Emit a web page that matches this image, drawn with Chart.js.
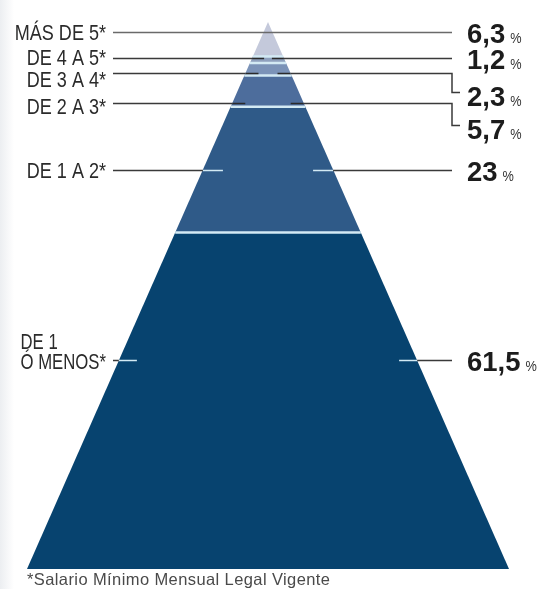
<!DOCTYPE html>
<html lang="es">
<head>
<meta charset="utf-8">
<script src="https://cdn.jsdelivr.net/npm/chart.js@4"></script>
<style>
    html, body { margin: 0; padding: 0; background: linear-gradient(to right, #eceef1 0px, #ffffff 14px); }
    #wrap { width: 542px; height: 589px; }
</style>
</head>
<body>
<div id="wrap"><canvas id="piramide" width="542" height="589"></canvas></div>
<script>
// Niveles de ingreso, de la base hacia la punta
const niveles = [['DE 1', 'Ó MENOS*'], ['DE 1 A 2*'], ['DE 2 A 3*'], ['DE 3 A 4*'], ['DE 4 A 5*'], ['MÁS DE 5*']];
const porcentajes = [61.5, 23, 5.7, 2.3, 1.2, 6.3];
const nota = '*Salario Mínimo Mensual Legal Vigente';

// Estilos
const colores = ['#07436f', '#2f5a88', '#4d6d9c', '#7b93b8', '#8fa1be', '#c4c9db'];
const posGuia = [0.62, 0.5, 0.12, 0.2, 0.75, 0.71];    // altura de la guía dentro de cada capa
const bajada = [0, 0, 22, 19, 0, 0];                   // codo de la guía derecha (px)
const desvTexto = [0, 0, 3, 6, -1, 0];                 // ajuste vertical del rótulo izquierdo (px)
const dentro = [18, 20, 13, 13, 12, null];             // cuánto entra la guía en la pirámide
const guiaClara = [true, true, false, false, false, false];

// Acumulados
const acum = [0];
porcentajes.forEach((v, i) => acum.push(acum[i] + v));
const total = acum[acum.length - 1];
const ancho = c => 1 - c / total;

// Capas (trapecios) y separadores
const capas = porcentajes.map((v, i) => ({
    data: [
        { x: -ancho(acum[i]), y: acum[i] },
        { x: ancho(acum[i]), y: acum[i] },
        { x: ancho(acum[i + 1]), y: acum[i + 1] },
        { x: -ancho(acum[i + 1]), y: acum[i + 1] }
    ],
    backgroundColor: colores[i],
    borderWidth: 0,
    pointRadius: 0,
    fill: 'shape'
}));

const separadores = acum.slice(1, -1).map(c => ({
    data: [{ x: -ancho(c), y: c }, { x: ancho(c), y: c }],
    borderColor: '#d3eaf4',
    borderWidth: 2.5,
    pointRadius: 0,
    fill: false
}));

const fmt = v => String(v).replace('.', ',');

// texto condensado: fuente normal comprimida a lo ancho
function angosto(ctx, txt, x, y, align, f) {
    ctx.save();
    ctx.translate(x, y);
    ctx.scale(f, 1);
    ctx.textAlign = align;
    ctx.fillText(txt, 0, 0);
    ctx.restore();
    return ctx.measureText(txt).width * f;
}

// Guías y rótulos
const rotulos = {
    id: 'rotulos',
    afterDatasetsDraw(chart) {
        const { ctx, scales: { x, y } } = chart;
        const xTexto = 106, xIni = 113, xFin = 452, xValor = 467;
        ctx.save();
        ctx.lineWidth = 1.5;

        porcentajes.forEach((v, i) => {
            const c = acum[i] + posGuia[i] * v;
            const py = Math.round(y.getPixelForValue(c)) + 0.5;
            const izq = x.getPixelForValue(-ancho(c));
            const der = x.getPixelForValue(ancho(c));

            if (dentro[i] === null) {
                ctx.strokeStyle = '#6a6a6a';
                ctx.beginPath(); ctx.moveTo(xIni, py); ctx.lineTo(xFin, py); ctx.stroke();
            } else {
                ctx.strokeStyle = '#3a3a3a';
                ctx.beginPath();
                ctx.moveTo(xIni, py); ctx.lineTo(izq, py);
                ctx.moveTo(der, py); ctx.lineTo(xFin, py);
                if (bajada[i]) {
                    ctx.lineTo(xFin, py + bajada[i]);
                    ctx.lineTo(xFin + 8, py + bajada[i]);
                }
                ctx.stroke();
                ctx.strokeStyle = guiaClara[i] ? '#d3eaf4' : '#2a2a2a';
                ctx.beginPath();
                ctx.moveTo(izq, py); ctx.lineTo(izq + dentro[i], py);
                ctx.moveTo(der - dentro[i], py); ctx.lineTo(der, py);
                ctx.stroke();
            }

            // rótulo izquierdo
            ctx.fillStyle = '#2b2b2b';
            ctx.font = '22px "Liberation Sans", Arial, sans-serif';
            ctx.textBaseline = 'middle';
            const lineas = niveles[i];
            const ty = py + 1 + desvTexto[i];
            if (lineas.length > 1) {
                const w = ctx.measureText(lineas[lineas.length - 1]).width * 0.76;
                lineas.forEach((t, k) => angosto(ctx, t, xTexto - w, ty + 1 - (lineas.length - 1 - k) * 20, 'left', 0.76));
            } else {
                angosto(ctx, lineas[0], xTexto, ty, 'right', 0.82);
            }

            // valor derecho
            const base = py + bajada[i] + (bajada[i] ? 13 : 10);
            ctx.textBaseline = 'alphabetic';
            ctx.fillStyle = '#1c1c1c';
            ctx.font = 'bold 28px "Liberation Sans", Arial, sans-serif';
            const wn = angosto(ctx, fmt(v), xValor, base, 'left', 0.98);
            ctx.font = '15px "Liberation Sans", sans-serif';
            ctx.fillStyle = '#333';
            angosto(ctx, '%', xValor + wn + 5, base, 'left', 0.85);
        });

        // nota al pie
        ctx.fillStyle = '#4a4a4a';
        ctx.font = '16.5px "Liberation Sans", sans-serif';
        ctx.letterSpacing = '0.4px';
        ctx.textAlign = 'left';
        ctx.textBaseline = 'alphabetic';
        ctx.fillText(nota, 27, 585);
        ctx.restore();
    }
};

const chart = new Chart(document.getElementById('piramide').getContext('2d'), {
    type: 'line',
    data: { datasets: [...separadores, ...capas] },
    options: {
        responsive: false,
        animation: false,
        layout: { padding: { top: 22, bottom: 20, left: 0, right: 0 } },
        plugins: { legend: { display: false }, tooltip: { enabled: false } },
        scales: {
            x: { type: 'linear', display: false, min: -268 / 241, max: 274 / 241 },
            y: { type: 'linear', display: false, min: 0, max: total }
        }
    },
    plugins: [rotulos]
});
</script>
</body>
</html>
